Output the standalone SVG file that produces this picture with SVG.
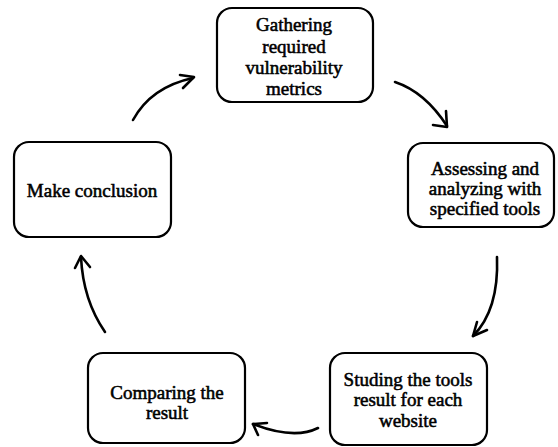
<svg xmlns="http://www.w3.org/2000/svg" width="558" height="447" viewBox="0 0 558 447" font-family="'Liberation Serif', 'Times New Roman', 'DejaVu Serif', serif">
<style>
.box{fill:#fff;stroke:#000;stroke-width:2.2}
.t{font-size:19px;fill:#000;text-anchor:middle;stroke:#000;stroke-width:0.55}
.c{fill:none;stroke:#000;stroke-width:2.6;stroke-linecap:round;stroke-linejoin:round}
</style>
<rect width="558" height="447" fill="#fff"/>
<g id="node-gathering">
<rect class="box" x="217" y="8" width="156" height="94" rx="15"/>
<text class="t" x="294" y="31">Gathering</text>
<text class="t" x="294" y="53">required</text>
<text class="t" x="294" y="74">vulnerability</text>
<text class="t" x="294" y="95">metrics</text>
</g>
<g id="node-assessing">
<rect class="box" x="408" y="143" width="146" height="84" rx="15"/>
<text class="t" x="485" y="175">Assessing and</text>
<text class="t" x="485" y="195">analyzing with</text>
<text class="t" x="485" y="215">specified tools</text>
</g>
<g id="node-studing">
<rect class="box" x="330" y="353" width="157" height="92" rx="15"/>
<text class="t" x="408" y="386">Studing the tools</text>
<text class="t" x="408" y="406">result for each</text>
<text class="t" x="408" y="427">website</text>
</g>
<g id="node-comparing">
<rect class="box" x="88" y="353" width="157" height="90" rx="15"/>
<text class="t" x="167" y="399">Comparing the</text>
<text class="t" x="167" y="419">result</text>
</g>
<g id="node-conclusion">
<rect class="box" x="14" y="142" width="157" height="95" rx="15"/>
<text class="t" x="92" y="197">Make conclusion</text>
</g>
<g id="connectors">
<path class="c" d="M133,120 Q151,87 193,78"/>
<polyline class="c" points="180,75 194,77 183,88"/>
<path class="c" d="M395,82 Q425,92 447,126"/>
<polyline class="c" points="446,111 447,127 433,125"/>
<path class="c" d="M497,257 Q499,310 473,336"/>
<polyline class="c" points="477,322 473,336 487,330"/>
<path class="c" d="M318,428 Q294,440 253,424"/>
<polyline class="c" points="267,423 253,424 258,435"/>
<path class="c" d="M105,332 Q83,300 81,257"/>
<polyline class="c" points="75,268 81,256 90,267"/>
</g>
</svg>
